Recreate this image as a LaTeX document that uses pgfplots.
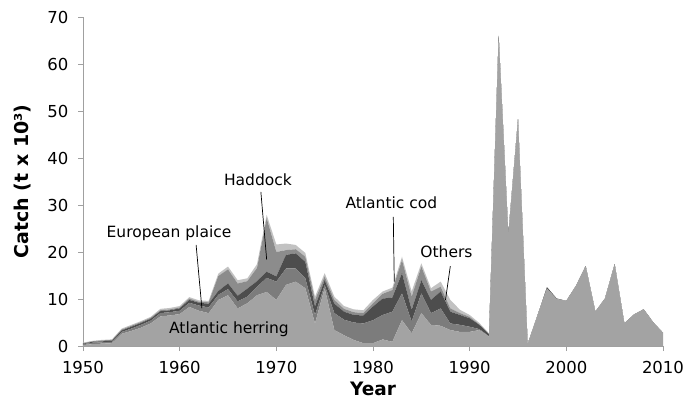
\documentclass[border=0pt]{standalone}
\usepackage{fontspec}
\setmainfont{DejaVu Sans}
\usepackage{pgfplots}
\usepackage{pgfplotstable}
\pgfplotsset{compat=1.18}
\definecolor{cHer}{HTML}{A3A3A3}
\definecolor{cPla}{HTML}{7C7C7C}
\definecolor{cCod}{HTML}{4D4D4D}
\definecolor{cHad}{HTML}{8C8C8C}
\definecolor{cOth}{HTML}{C2C2C2}
\definecolor{cAx}{HTML}{A0A0A0}
\pgfplotstableread{
year herring plaice cod haddock others
1950 0.2 0.2 0.1 0.1 0.1
1951 0.4 0.3 0.2 0.1 0.1
1952 0.5 0.3 0.2 0.2 0.1
1953 0.6 0.3 0.2 0.2 0.1
1954 2.6 0.4 0.3 0.2 0.2
1955 3.2 0.5 0.4 0.2 0.2
1956 3.9 0.6 0.4 0.2 0.2
1957 4.8 0.6 0.4 0.2 0.2
1958 6.3 0.7 0.4 0.2 0.3
1959 6.5 0.7 0.4 0.2 0.3
1960 6.8 0.7 0.5 0.2 0.3
1961 8.3 0.9 0.6 0.3 0.3
1962 7.5 1.1 0.6 0.2 0.3
1963 7.0 1.2 0.8 0.3 0.3
1964 9.8 1.1 0.8 3.2 0.5
1965 10.8 1.3 1.2 3.0 0.6
1966 8.0 1.5 1.2 2.6 0.7
1967 9.1 1.4 1.7 1.6 0.6
1968 10.8 1.8 1.2 2.8 0.8
1969 11.5 3.0 1.3 11.4 0.7
1970 9.8 3.9 1.1 5.2 1.6
1971 13.0 3.5 2.9 1.0 1.4
1972 13.7 2.8 3.2 0.9 0.9
1973 12.3 2.1 3.5 1.1 0.8
1974 4.8 1.8 1.8 1.4 0.7
1975 12.3 0.7 1.0 0.8 0.7
1976 3.4 3.6 2.0 0.8 0.7
1977 2.3 3.3 1.7 0.6 0.6
1978 1.3 3.7 1.6 0.6 0.6
1979 0.6 4.2 1.7 0.5 0.6
1980 0.6 4.9 2.9 0.7 0.7
1981 1.4 5.2 3.5 1.0 0.5
1982 0.9 6.4 3.0 1.6 0.5
1983 5.5 5.7 4.3 2.8 0.7
1984 2.7 2.5 2.5 2.8 1.1
1985 7.0 4.2 2.8 2.9 0.7
1986 4.5 2.5 2.8 1.8 0.7
1987 4.3 3.7 3.6 1.0 1.1
1988 3.4 1.4 2.5 0.7 1.8
1989 3.0 1.5 2.1 0.4 0.7
1990 3.0 1.1 1.8 0.3 0.4
1991 3.4 0.2 0.9 0.1 0.3
1992 2.0 0.1 0.4 0.1 0.1
1993 66.0 0 0 0 0
1994 23.8 0 0 0 0
1995 48.2 0 0 0 0
1996 0.4 0 0 0 0
1997 6.4 0 0 0 0
1998 12.2 0 0.3 0 0
1999 10.0 0 0.1 0 0
2000 9.6 0 0 0 0
2001 12.8 0 0 0 0
2002 17.0 0 0 0 0
2003 7.3 0 0 0 0
2004 10.1 0 0 0 0
2005 17.4 0 0 0 0
2006 4.8 0 0 0 0
2007 6.7 0 0 0 0
2008 7.8 0 0 0 0
2009 5.0 0 0 0 0
2010 2.8 0 0 0 0
}\catchdata
\begin{document}
\begin{tikzpicture}
\useasboundingbox (-83pt,-62pt) rectangle (616pt,346pt);
\begin{axis}[
  scale only axis,
  width=580pt, height=329pt,
  xmin=1950, xmax=2010, ymin=0, ymax=70,
  xtick={1950,1960,...,2010},
  ytick={0,10,...,70},
  axis x line*=bottom, axis y line*=left,
  axis line style={cAx, line width=0.8pt},
  tick style={cAx, line width=0.8pt},
  tick align=outside,
  major tick length=5pt,
  /pgf/number format/assume math mode=true,
  x tick label style={/pgf/number format/1000 sep={}, font=\fontsize{16.5}{19}\selectfont, yshift=-7pt},
  y tick label style={font=\fontsize{16.5}{19}\selectfont, xshift=-6pt},
  stack plots=y,
  xlabel={\textbf{Year}},
  ylabel={\textbf{Catch (t x 10³)}},
  xlabel style={font=\fontsize{18.5}{22}\selectfont, at={(axis description cs:0.5,-0.13)}, anchor=center},
  ylabel style={font=\fontsize{19}{22}\selectfont, at={(axis description cs:-0.104,0.5)}, anchor=center},
  clip=false,
]
\addplot[fill=cHer, draw=none] table[x=year, y=herring] {\catchdata} \closedcycle;
\addplot[fill=cPla, draw=none] table[x=year, y=plaice] {\catchdata} \closedcycle;
\addplot[fill=cCod, draw=none] table[x=year, y=cod] {\catchdata} \closedcycle;
\addplot[fill=cHad, draw=none] table[x=year, y=haddock] {\catchdata} \closedcycle;
\addplot[fill=cOth, draw=none] table[x=year, y=others] {\catchdata} \closedcycle;
\coordinate (tHad) at (axis cs:1968.1,35.3);
\coordinate (aHad1) at (axis cs:1968.4,32.8);
\coordinate (aHad2) at (axis cs:1969.0,18.4);
\coordinate (tPla) at (axis cs:1958.9,24.1);
\coordinate (aPla1) at (axis cs:1961.7,21.5);
\coordinate (aPla2) at (axis cs:1962.3,8.0);
\coordinate (tHer) at (axis cs:1965.1,3.6);
\coordinate (tCod) at (axis cs:1981.9,30.4);
\coordinate (aCod1) at (axis cs:1982.1,27.5);
\coordinate (aCod2) at (axis cs:1982.2,13.7);
\coordinate (tOth) at (axis cs:1987.6,20.1);
\coordinate (aOth1) at (axis cs:1988.0,17.0);
\coordinate (aOth2) at (axis cs:1987.5,9.8);
\end{axis}
\begin{scope}[every node/.style={font=\fontsize{15.5}{18}\selectfont}]
\node at (tHad) {Haddock};
\draw[black, line width=0.7pt] (aHad1) -- (aHad2);
\node at (tPla) {European plaice};
\draw[black, line width=0.7pt] (aPla1) -- (aPla2);
\node at (tHer) {Atlantic herring};
\node at (tCod) {Atlantic cod};
\draw[black, line width=0.7pt] (aCod1) -- (aCod2);
\node at (tOth) {Others};
\draw[black, line width=0.7pt] (aOth1) -- (aOth2);
\end{scope}
\end{tikzpicture}
\end{document}
